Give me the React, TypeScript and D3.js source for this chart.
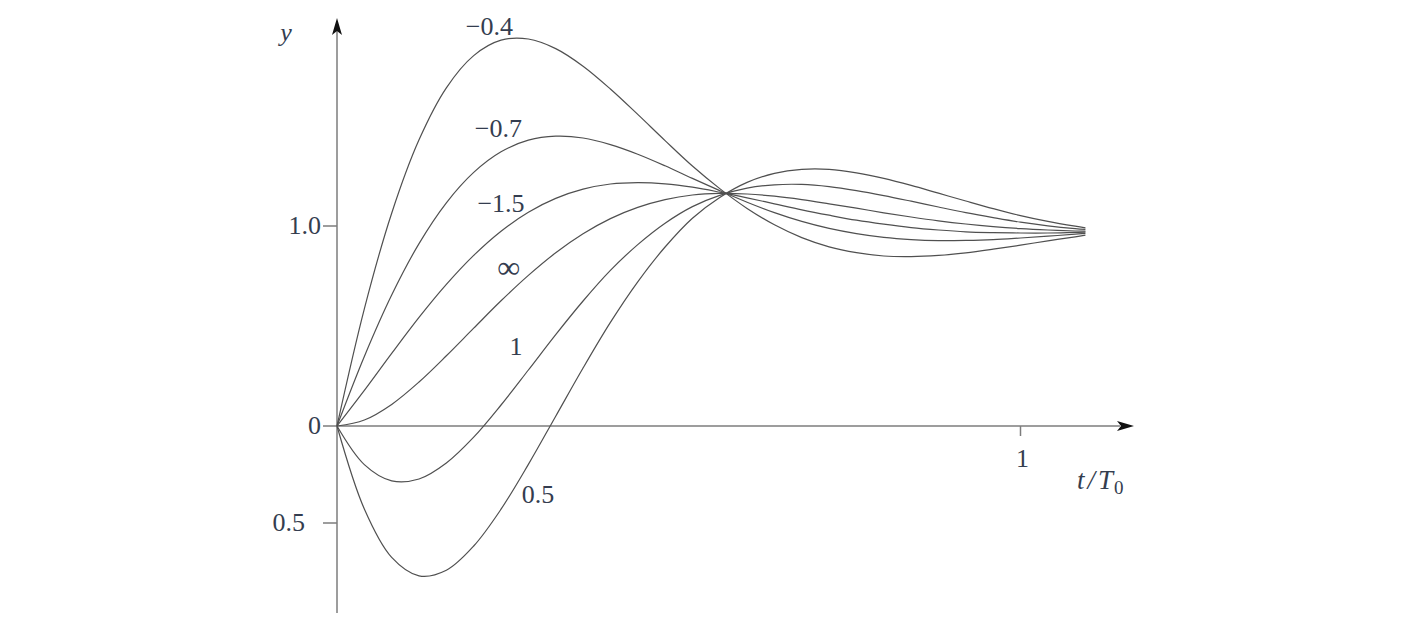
import React from "react";
import * as d3 from "d3";

// sample times t/T0
const tValues = [0, 0.04, 0.08, 0.12, 0.16, 0.2, 0.24, 0.28, 0.32, 0.36, 0.4, 0.44, 0.48, 0.52, 0.56, 0.6, 0.64, 0.68, 0.72, 0.76, 0.8, 0.84, 0.88, 0.92, 0.96, 1.0, 1.04, 1.08, 1.095];

// curve values
const yM04 = [0, 0.586, 1.064, 1.431, 1.691, 1.852, 1.929, 1.935, 1.887, 1.799, 1.685, 1.558, 1.427, 1.3, 1.187, 1.088, 1.006, 0.942, 0.896, 0.867, 0.85, 0.847, 0.853, 0.866, 0.884, 0.904, 0.926, 0.946, 0.954];
const yM07 = [0, 0.348, 0.655, 0.912, 1.116, 1.268, 1.371, 1.429, 1.449, 1.44, 1.407, 1.359, 1.301, 1.238, 1.177, 1.119, 1.067, 1.023, 0.988, 0.962, 0.943, 0.932, 0.927, 0.928, 0.932, 0.94, 0.949, 0.959, 0.963];
const yM15 = [0, 0.178, 0.363, 0.543, 0.708, 0.853, 0.974, 1.069, 1.138, 1.184, 1.21, 1.217, 1.211, 1.194, 1.169, 1.141, 1.111, 1.081, 1.054, 1.029, 1.009, 0.992, 0.98, 0.971, 0.967, 0.965, 0.965, 0.968, 0.969];
const yInf = [0, 0.03, 0.108, 0.22, 0.351, 0.489, 0.626, 0.753, 0.866, 0.961, 1.037, 1.093, 1.132, 1.155, 1.163, 1.16, 1.149, 1.132, 1.111, 1.089, 1.066, 1.045, 1.026, 1.01, 0.997, 0.987, 0.98, 0.975, 0.974];
const yP1 = [0, -0.193, -0.274, -0.265, -0.185, -0.056, 0.105, 0.28, 0.457, 0.625, 0.778, 0.907, 1.014, 1.097, 1.153, 1.189, 1.206, 1.208, 1.197, 1.177, 1.152, 1.124, 1.095, 1.067, 1.042, 1.019, 1.001, 0.987, 0.983];
const yP05 = [0, -0.415, -0.657, -0.749, -0.721, -0.6, -0.416, -0.192, 0.049, 0.29, 0.518, 0.721, 0.895, 1.039, 1.143, 1.218, 1.263, 1.283, 1.283, 1.266, 1.238, 1.203, 1.164, 1.125, 1.087, 1.052, 1.023, 0.999, 0.991];

const seriesList = [yM04, yM07, yM15, yInf, yP1, yP05];

// curve labels with anchor positions in data units
const curveLabels = ["\u22120.4", "\u22120.7", "\u22121.5", "\u221E", "1", "0.5"];
const curveLabelT = [0.223, 0.236, 0.24, 0.251, 0.262, 0.294];
const curveLabelY = [1.955, 1.445, 1.07, 0.74, 0.355, -0.385];

// axis ticks
const yTickValues = [-0.485, 0, 1];
const yTickLabels = ["0.5", "0", "1.0"];
const xTickValues = [1];
const xTickLabels = ["1"];

export default function App() {
  const x = d3.scaleLinear().domain([0, 1]).range([337, 1020.5]);
  const y = d3.scaleLinear().domain([0, 1]).range([426, 226]);
  const line = d3
    .line<number>()
    .x((_, i) => x(tValues[i]))
    .y((d) => y(d))
    .curve(d3.curveCatmullRom.alpha(0.5));

  const axisColor = "#7d7d7d";
  const curveColor = "#505050";
  const textColor = "#343d4f";
  const font = "Liberation Serif, serif";

  const x0 = x(0);
  const y0 = y(0);

  return (
    <div style={{ position: "absolute", left: 0, top: 0 }}>
      <svg width={1404} height={627} style={{ display: "block", background: "#fff" }}>
        {/* y axis */}
        <line x1={x0} y1={613} x2={x0} y2={30} stroke={axisColor} strokeWidth={1.5} />
        <path d={`M${x0},18 L${x0 + 5},35 L${x0},31 L${x0 - 5},35 Z`} fill="#111" />
        {/* x axis */}
        <line x1={x0} y1={y0} x2={1120} y2={y0} stroke={axisColor} strokeWidth={1.5} />
        <path d={`M1134,${y0} L1117,${y0 - 5} L1121,${y0} L1117,${y0 + 5} Z`} fill="#111" />

        {/* y ticks */}
        {yTickValues.map((v, i) => (
          <g key={"yt" + i}>
            <line x1={x0 - 14} x2={x0} y1={y(v)} y2={y(v)} stroke={axisColor} strokeWidth={1.5} />
            <text
              x={i === 0 ? x0 - 32 : x0 - 16}
              y={y(v) + 8}
              textAnchor="end"
              fontFamily={font}
              fontSize={26}
              fill={textColor}
            >
              {yTickLabels[i]}
            </text>
          </g>
        ))}

        {/* x ticks */}
        {xTickValues.map((v, i) => (
          <g key={"xt" + i}>
            <line x1={x(v)} x2={x(v)} y1={y0} y2={y0 + 10} stroke={axisColor} strokeWidth={1.5} />
            <text x={x(v) + 2} y={467} textAnchor="middle" fontFamily={font} fontSize={26} fill={textColor}>
              {xTickLabels[i]}
            </text>
          </g>
        ))}

        {/* axis titles */}
        <text x={286} y={41} textAnchor="middle" fontFamily={font} fontStyle="italic" fontSize={26} fill={textColor}>
          y
        </text>
        <text x={1077} y={489} fontFamily={font} fontStyle="italic" fontSize={27} fill={textColor}>
          t
          <tspan dx={3}>/</tspan>
          <tspan dx={3}>T</tspan>
          <tspan fontStyle="normal" fontSize={19} dx={1} dy={5}>0</tspan>
        </text>

        {/* curves */}
        {seriesList.map((s, i) => (
          <path key={"c" + i} d={line(s) || ""} fill="none" stroke={curveColor} strokeWidth={1.2} />
        ))}

        {/* curve labels */}
        {curveLabels.map((lab, i) => (
          <text
            key={"l" + i}
            x={x(curveLabelT[i])}
            y={y(curveLabelY[i])}
            textAnchor="middle"
            fontFamily={font}
            fontSize={i === 3 ? 32 : 26}
            fill={textColor}
          >
            {lab}
          </text>
        ))}
      </svg>
    </div>
  );
}
